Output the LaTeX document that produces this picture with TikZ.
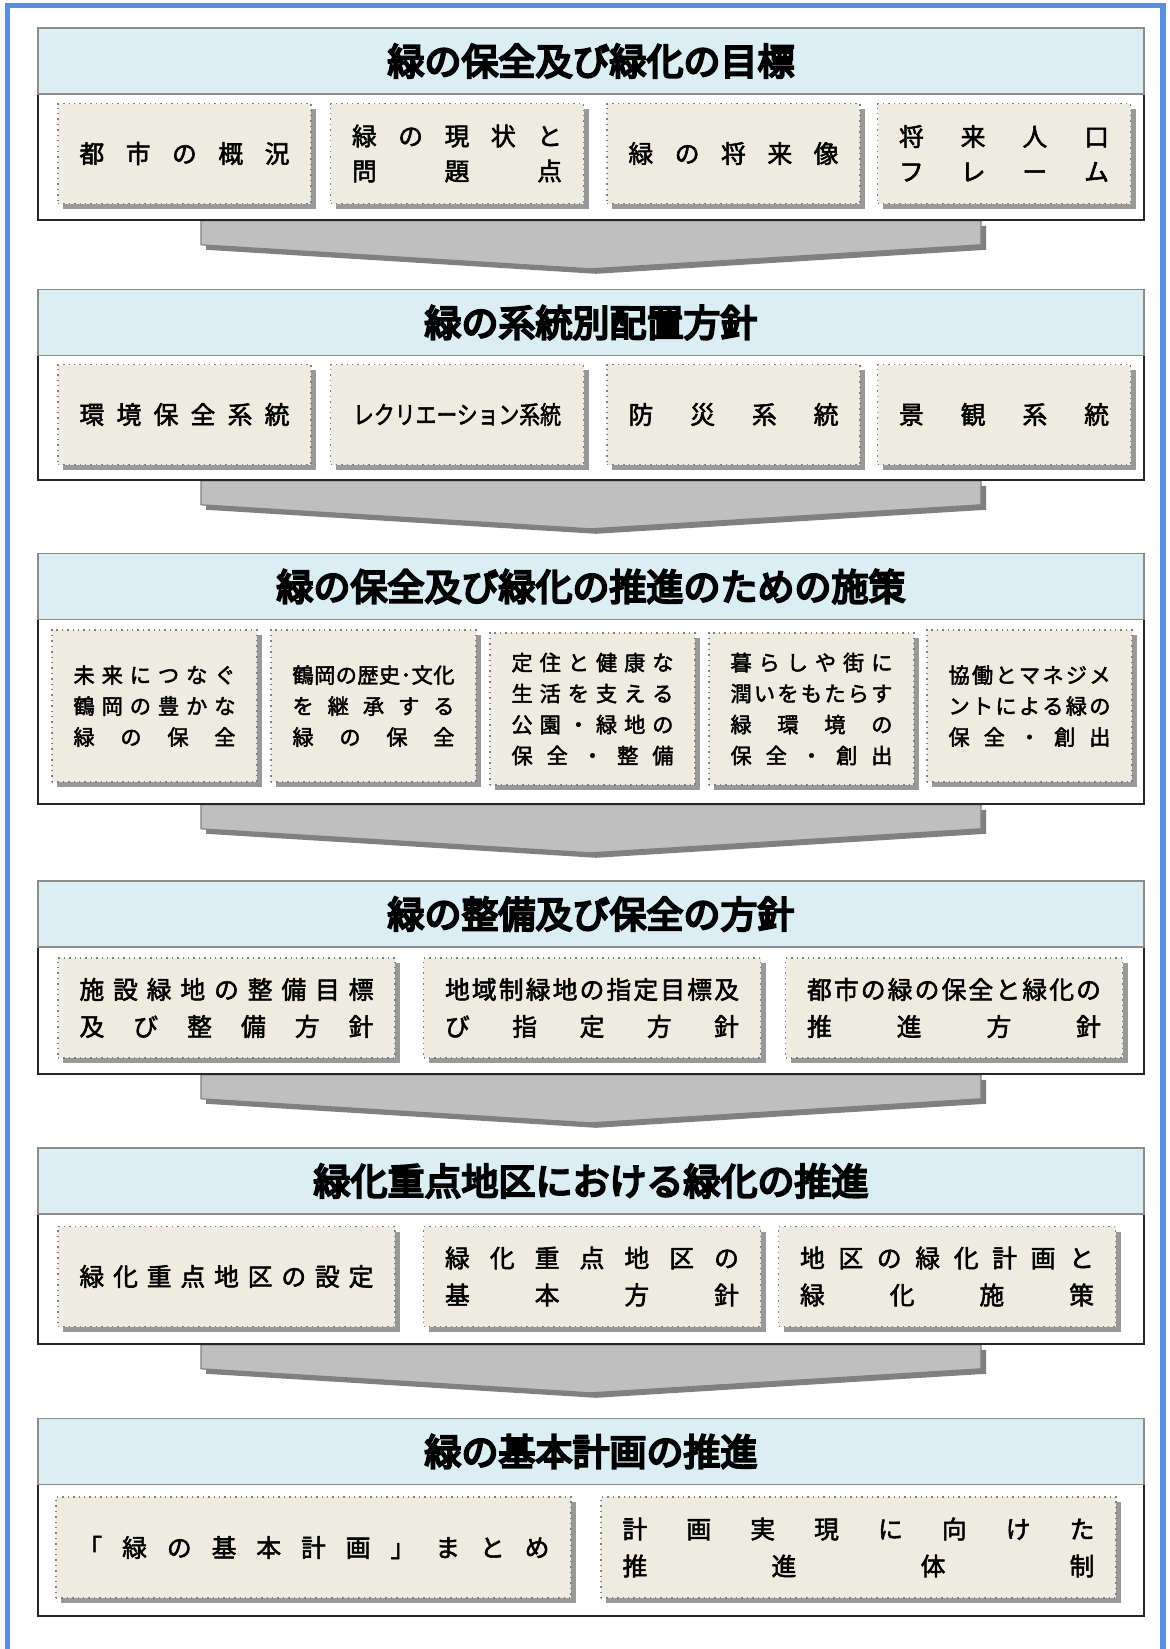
\documentclass[tikz,border=0pt]{standalone}
\usepackage{fontspec}
\usepackage{graphicx}
\newfontfamily\jpbox{Noto Sans CJK JP}[FakeBold=2.2]
\newfontfamily\jphead{Noto Sans CJK JP}[FakeBold=6]
\usetikzlibrary{shadows,calc,backgrounds}

\definecolor{headblue}{HTML}{DAEEF3}
\definecolor{itemfill}{HTML}{EEECE1}
\definecolor{shadowgray}{HTML}{999999}
\definecolor{dotgray}{HTML}{7F7F7F}
\definecolor{headline}{HTML}{8C8C8C}
\definecolor{panelline}{HTML}{262626}
\definecolor{arrowgray}{HTML}{BFBFBF}
\definecolor{arrowdark}{HTML}{808080}
\definecolor{frameblue}{HTML}{5B8FD8}

% evenly spread characters over one line
\newlength\linew
\newcommand\spreadtext[1]{\spfirst#1\relax}
\def\spfirst#1{#1\sprest}
\def\sprest#1{\ifx#1\relax\else\hfil#1\expandafter\sprest\fi}
\newcommand\row[1]{\hbox to \linew{\spreadtext{#1}}}

% block arrow below a panel
\newcommand\flowarrow[1]{%
  \fill[arrowdark] ($(#1.south)+(-385,5)$) -- ($(#1.south)+(395,5)$) -- ($(#1.south)+(395,29)$)
    -- ($(#1.south)+(5,53)$) -- ($(#1.south)+(-385,29)$) -- cycle;
  \filldraw[fill=arrowgray, draw=arrowdark, line width=0.6pt] ($(#1.south)+(-390,0)$) -- ($(#1.south)+(390,0)$)
    -- ($(#1.south)+(390,24)$) -- ($(#1.south)+(0,48)$) -- ($(#1.south)+(-390,24)$) -- cycle;}

\begin{document}
\begin{tikzpicture}[
    x = 0.5pt, y = -0.5pt,
    boxsize/.style 2 args = {minimum width = #1*0.5pt, minimum height = #2*0.5pt},
    head/.style  = {draw = headline, line width = 0.8pt, fill = headblue, inner sep = 0pt,
                    boxsize = {1106}{66}, font = \jphead\fontsize{18.5}{20}\selectfont},
    panel/.style = {draw = panelline, line width = 0.8pt, fill = white, inner sep = 0pt},
    item/.style  = {draw = dotgray, dotted, line width = 0.7pt, fill = itemfill, inner sep = 0pt,
                    drop shadow = {shadow xshift = 2.5pt, shadow yshift = -2.5pt, fill = shadowgray, opacity = 1}},
    quadtext/.style  = {boxsize = {253}{100}, font = {\jpbox\fontsize{12.4}{17.5}\selectfont\setlength\linew{105pt}}},
    quinttext/.style = {boxsize = {205}{152}, font = {\jpbox\fontsize{10.6}{15.5}\selectfont\setlength\linew{81pt}}},
    triotext/.style  = {boxsize = {337}{100}, font = {\jpbox\fontsize{12.4}{18.5}\selectfont\setlength\linew{147pt}}},
    duotext/.style   = {boxsize = {515}{101}, font = {\jpbox\fontsize{12.4}{18.5}\selectfont\setlength\linew{236pt}}}
  ]
  \useasboundingbox (0,0) rectangle (1170,1649);
  \draw[frameblue, line width = 2.6pt] (7.5,1670) |- (1163,5.5) -- (1163,1670);

  % goals
  \node[panel, boxsize = {1106}{126}] (body1) at (591,157) {};
  \node[head] (head1) at (591,61) {緑の保全及び緑化の目標};
  \node[item, quadtext] (city)    at (184.5,153.5) {\vbox{\row{都市の概況}}};
  \node[item, quadtext] (present) at (457,153.5)   {\vbox{\row{緑の現状と}\row{問題点}}};
  \node[item, quadtext] (future)  at (733.5,153.5) {\vbox{\row{緑の将来像}}};
  \node[item, quadtext] (people)  at (1004,153.5)  {\vbox{\row{将来人口}\row{フレーム}}};

  % systems
  \node[panel, boxsize = {1106}{125}] (body2) at (591,417.5) {};
  \node[head] (head2) at (591,322.5) {緑の系統別配置方針};
  \node[item, quadtext] (env)   at (184.5,414.5) {\vbox{\row{環境保全系統}}};
  \node[item, quadtext] (recr)  at (457,414.5)   {\scalebox{0.84}[1]{レクリエーション系統}};
  \node[item, quadtext] (safe)  at (733.5,414.5) {\vbox{\row{防災系統}}};
  \node[item, quadtext] (scene) at (1004,414.5)  {\vbox{\row{景観系統}}};

  % measures
  \node[panel, boxsize = {1106}{185}] (body3) at (591,711.5) {};
  \node[head] (head3) at (591,586.5) {緑の保全及び緑化の推進のための施策};
  \node[item, quinttext] (m1) at (154.5,706)  {\vbox{\row{未来につなぐ}\row{鶴岡の豊かな}\row{緑の保全}}};
  \node[item, quinttext] (m2) at (373.5,706)  {\vbox{\row{鶴岡の歴史･文化}\row{を継承する}\row{緑の保全}}};
  \node[item, quinttext] (m3) at (592.5,709)  {\vbox{\row{定住と健康な}\row{生活を支える}\row{公園・緑地の}\row{保全・整備}}};
  \node[item, quinttext] (m4) at (811.5,709)  {\vbox{\row{暮らしや街に}\row{潤いをもたらす}\row{緑環境の}\row{保全・創出}}};
  \node[item, quinttext] (m5) at (1029.5,706) {\vbox{\row{協働とマネジメ}\row{ントによる緑の}\row{保全・創出}}};

  % policies
  \node[panel, boxsize = {1106}{127}] (body4) at (591,1010.5) {};
  \node[head] (head4) at (591,914) {緑の整備及び保全の方針};
  \node[item, triotext] (facil) at (226.5,1008) {\vbox{\row{施設緑地の整備目標}\row{及び整備方針}}};
  \node[item, triotext] (zone)  at (592,1008)   {\vbox{\row{地域制緑地の指定目標及}\row{び指定方針}}};
  \node[item, triotext] (urban) at (954,1008)   {\vbox{\row{都市の緑の保全と緑化の}\row{推進方針}}};

  % priority districts
  \node[panel, boxsize = {1106}{130}] (body5) at (591,1279) {};
  \node[head] (head5) at (591,1181) {緑化重点地区における緑化の推進};
  \node[item, triotext] (setting) at (226.5,1276.5) {\vbox{\row{緑化重点地区の設定}}};
  \node[item, triotext] (basic)   at (592,1276.5)   {\vbox{\row{緑化重点地区の}\row{基本方針}}};
  \node[item, triotext] (plan)    at (947,1276.5)   {\vbox{\row{地区の緑化計画と}\row{緑化施策}}};

  % promotion
  \node[panel, boxsize = {1106}{132}] (body6) at (591,1550) {};
  \node[head] (head6) at (591,1451.5) {緑の基本計画の推進};
  \node[item, duotext] (summary) at (313.5,1547.5) {\vbox{\row{「緑の基本計画」まとめ}}};
  \node[item, duotext] (system)  at (858.5,1547.5) {\vbox{\row{計画実現に向けた}\row{推進体制}}};

  % arrows between the stages
  \begin{scope}[on background layer]
    \flowarrow{body1}
    \flowarrow{body2}
    \flowarrow{body3}
    \flowarrow{body4}
    \flowarrow{body5}
  \end{scope}
\end{tikzpicture}
\end{document}
